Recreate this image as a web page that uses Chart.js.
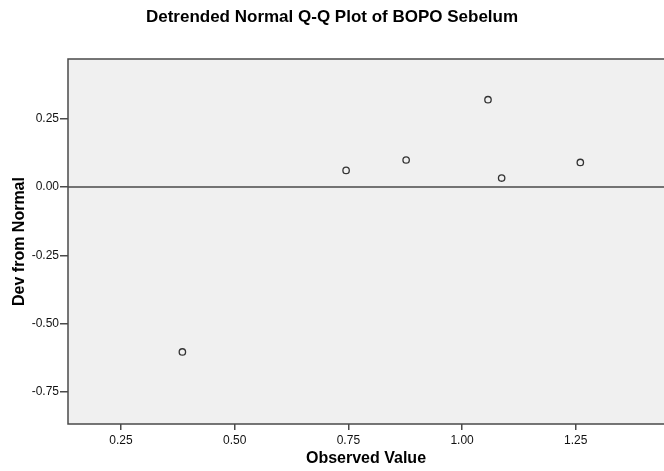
<!DOCTYPE html>
<html>
<head>
<meta charset="utf-8">
<script src="https://cdn.jsdelivr.net/npm/chart.js@4/dist/chart.umd.min.js"></script>
<style>
  html, body { margin: 0; padding: 0; background: #ffffff; }
  #wrap { width: 664px; height: 471px; position: relative; }
</style>
</head>
<body>
<div id="wrap"><canvas id="c" width="664" height="471"></canvas></div>
<script>
// ---- data ----
const observedValues = [0.385, 0.745, 0.877, 1.057, 1.087, 1.260];
const devFromNormal  = [-0.604, 0.061, 0.099, 0.320, 0.033, 0.090];
const xTickValues = [0.25, 0.50, 0.75, 1.00, 1.25];
const yTickValues = [0.25, 0.00, -0.25, -0.50, -0.75];
const xRange = [0.1335, 1.444];
const yRange = [-0.868, 0.469];
const chartTitle = 'Detrended Normal Q-Q Plot of BOPO Sebelum';
const xTitle = 'Observed Value';
const yTitle = 'Dev from Normal';

const FONT = "'Liberation Sans', Arial, sans-serif";
const points = observedValues.map((v, i) => ({ x: v, y: devFromNormal[i] }));

const framePlugin = {
  id: 'frame',
  beforeDraw(chart) {
    const { ctx, chartArea: a } = chart;
    ctx.save();
    ctx.fillStyle = '#f0f0f0';
    ctx.fillRect(a.left, a.top, a.right - a.left, a.bottom - a.top);
    ctx.restore();
  },
  beforeDatasetsDraw(chart) {
    const { ctx, chartArea: a, scales } = chart;
    ctx.save();
    ctx.strokeStyle = '#4a4a4a';
    ctx.lineWidth = 1.5;
    ctx.beginPath();
    ctx.moveTo(a.right, a.top); ctx.lineTo(a.left, a.top);
    ctx.lineTo(a.left, a.bottom); ctx.lineTo(a.right, a.bottom);
    ctx.stroke();
    const y0 = scales.y.getPixelForValue(0);
    ctx.beginPath();
    ctx.moveTo(a.left, y0); ctx.lineTo(a.right, y0);
    ctx.stroke();
    ctx.restore();
  }
};

new Chart(document.getElementById('c'), {
  type: 'scatter',
  data: {
    datasets: [{
      data: points,
      pointStyle: 'circle',
      pointRadius: 3.2,
      pointBorderWidth: 1.3,
      pointBorderColor: '#333333',
      pointBackgroundColor: 'rgba(0,0,0,0)',
      clip: false
    }]
  },
  plugins: [framePlugin],
  options: {
    responsive: false,
    animation: false,
    events: [],
    layout: { autoPadding: false, padding: { left: 0, right: 0, top: 0, bottom: 0 } },
    plugins: {
      legend: { display: false },
      tooltip: { enabled: false },
      title: {
        display: true,
        text: chartTitle,
        color: '#000',
        font: { family: FONT, size: 17, weight: 'bold' },
        padding: { top: 6.8, bottom: 31.8 }
      }
    },
    scales: {
      x: {
        type: 'linear',
        min: xRange[0], max: xRange[1],
        afterBuildTicks: s => { s.ticks = xTickValues.map(v => ({ value: v })); },
        afterFit: s => { s.height = 47; },
        grid: { drawOnChartArea: false, drawTicks: true, tickLength: 6, color: '#4a4a4a', lineWidth: 1.5 },
        border: { display: false },
        ticks: {
          color: '#111', padding: 3, maxRotation: 0, autoSkip: false,
          font: { family: FONT, size: 12 },
          callback: v => Number(v).toFixed(2)
        },
        title: {
          display: true, text: xTitle, color: '#000',
          font: { family: FONT, size: 16, weight: 'bold' },
          padding: { top: 0, bottom: 3 }
        }
      },
      y: {
        type: 'linear',
        min: yRange[0], max: yRange[1],
        afterBuildTicks: s => { s.ticks = yTickValues.map(v => ({ value: v })); },
        afterFit: s => { s.width = 68; },
        grid: { drawOnChartArea: false, drawTicks: true, tickLength: 8, color: '#4a4a4a', lineWidth: 1.5 },
        border: { display: false },
        ticks: {
          color: '#111', padding: 1, autoSkip: false,
          font: { family: FONT, size: 12 },
          callback: v => Number(v).toFixed(2)
        },
        title: {
          display: true, text: yTitle, color: '#000',
          font: { family: FONT, size: 16, weight: 'bold' },
          padding: { top: 10, bottom: 0 }
        }
      }
    }
  }
});
</script>
</body>
</html>
